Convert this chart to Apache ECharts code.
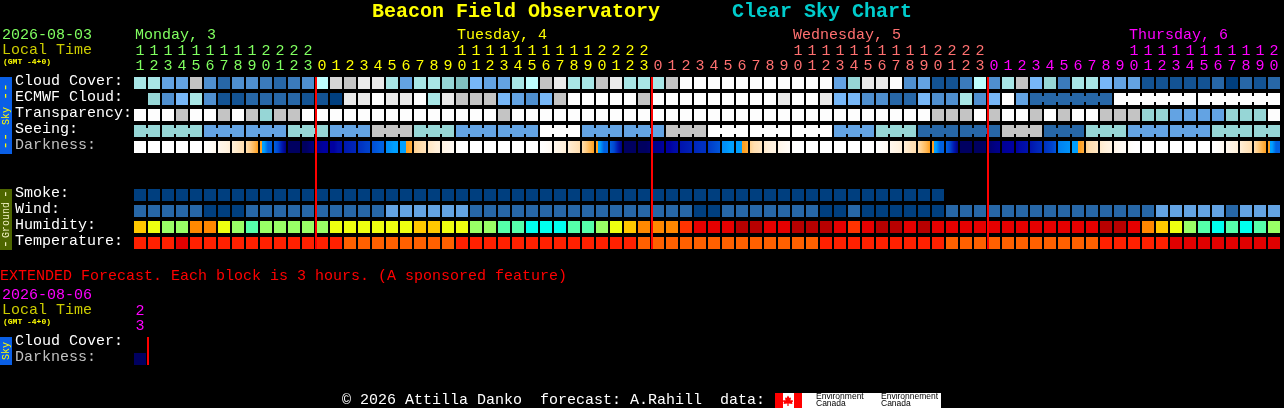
<!DOCTYPE html>
<html><head><meta charset="utf-8">
<style>html,body{margin:0;padding:0;background:#000}#c{width:1284px;height:408px}</style>
<script src="https://cdn.jsdelivr.net/npm/echarts@6/dist/echarts.min.js"></script></head>
<body><div id="c"></div>
<script>
// ---- categories / ticks ----
const hourLabels = [11,12,13,14,15,16,17,18,19,20,21,22,23,
 0,1,2,3,4,5,6,7,8,9,10,11,12,13,14,15,16,17,18,19,20,21,22,23,
 0,1,2,3,4,5,6,7,8,9,10,11,12,13,14,15,16,17,18,19,20,21,22,23,
 0,1,2,3,4,5,6,7,8,9,10,11,12,13,14,15,16,17,18,19,20];
const midnightCols = [13,37,61];
const dayNames = ['Monday, 3','Tuesday, 4','Wednesday, 5','Thursday, 6'];
const dayNameCols = [0,23,47,71];
const dayColors = ['#80FF60','#FFFF00','#FF7070','#FF00FF'];
const rowNames = ['Cloud Cover:','ECMWF Cloud:','Transparency:','Seeing:','Darkness:','','','Smoke:','Wind:','Humidity:','Temperature:'];
const extHours = ['23',''];
const extRowNames = ['Cloud Cover:','Darkness:'];
// ---- colour levels ----
const cloudPalette = ['#003F7F','#135393','#2767A7','#3B7BBB','#4F8FCF','#63A3E3','#77B7F7','#96D6D6','#A8E6E6','#BEFEFE','#C4C4C4','#EAEAEA','#FDFDFD','#D6D6D6','#80C0C0'];
const humidityPalette = ['#00FFEE','#55FFAA','#99FF66','#EEFF10','#FFC800','#FF8800','#FF3300','#E60000','#B80000'];
const tempPalette = ['#E00000','#FF2000','#FF6000'];
const darkPalette = ['#FFFFFF','#FFF8EE','#FFEFD8','#FFDEB0','#FFC470','#FFA020','#00A0FF','#0060E0','#0030C0','#0000A0','#000060'];
// ---- series values (level per hour) ----
const cloudCover = [8,8,5,5,10,4,2,4,4,3,2,3,4,9,13,10,11,11,8,5,8,8,7,14,6,5,5,8,9,10,11,8,8,10,11,8,8,8,10,12,12,12,12,12,12,12,12,12,12,12,5,7,11,11,12,4,5,1,1,3,9,4,8,10,6,7,3,8,8,6,5,5,1,1,1,1,1,2,0,2,1,2];
const ecmwfCloud = [null,7,4,6,8,4,1,1,2,2,2,2,1,1,0,11,11,12,11,11,12,8,11,10,10,10,6,5,4,6,10,12,12,12,12,12,10,12,12,12,12,12,12,12,12,12,11,12,12,11,6,6,4,4,2,2,6,4,4,8,4,6,12,5,2,2,2,2,2,2,12,12,12,12,12,12,12,12,12,12,12,12];
const ecmwfBlocks = [[64,69],[70,75],[76,81]];
const transparency = [12,12,12,10,12,12,10,12,10,7,10,10,12,12,12,12,12,12,12,12,12,12,12,12,12,12,10,12,12,12,12,12,12,12,12,12,12,12,12,12,12,12,12,12,12,12,12,12,12,12,12,12,12,12,12,12,12,10,10,10,12,10,12,12,10,12,10,12,12,10,10,10,7,7,5,5,5,5,7,7,7,12];
const seeing = [7,7,7,7,7,5,5,5,5,5,5,7,7,7,5,5,5,10,10,10,7,7,7,5,5,5,5,5,5,12,12,12,5,5,5,5,5,5,10,10,10,12,12,12,12,12,12,12,12,12,5,5,5,7,7,7,2,2,2,2,2,2,10,10,10,2,2,2,7,7,7,5,5,5,5,5,5,7,7,7,7,7];
const seeingBlocks = [[0,1],[2,4],[5,7],[8,10],[11,13],[14,16],[17,19],[20,22],[23,25],[26,28],[29,31],[32,34],[35,37],[38,40],[41,43],[44,46],[47,49],[50,52],[53,55],[56,58],[59,61],[62,64],[65,67],[68,70],[71,73],[74,76],[77,79],[80,81]];
const W=[0,0,0,0];
const darkness = [W,W,W,W,W,[0,.3,.6,1],[1,1.3,1.6,2],[2,2.3,2.7,3],[3,3.6,4.3,5],[5,6,7,7],[7,7.5,8.5,9.5],[10,10,10,10],[10,10,9.7,9.5],
 [9.3,9.2,9,9],[9,9,8.7,8.7],[8.5,8.4,8.3,8.2],[8,7.9,7.7,7.6],[7.4,7.2,7,7],[6.3,6.2,6,6],[6,6,5,4.6],[3.5,3.2,3,2.7],[2.5,2.3,2,1.8],[1.5,1.2,1,.7],[.3,0,0,0],W,W,W,W,W,
 [0,.2,.5,.8],[1,1.4,1.7,2],[2,2.4,2.7,3],[3,3.7,4.4,5],[5,6,7,7],[7,7.5,8.5,9.5],[10,10,10,10],[10,10,10,9.8],
 [9.5,9.3,9.2,9],[9,9,8.8,8.7],[8.6,8.5,8.4,8.3],[8.2,8.1,8,8],[7.8,7.6,7.4,7.2],[6.3,6.2,6,6],[6,6,5,4.6],[3.5,3,2.8,2.5],[2.3,2,1.7,1.5],[1.3,1,.7,.4],[.2,0,0,0],W,W,W,W,W,
 [0,.2,.4,.7],[1,1.3,1.6,2],[2,2.4,2.8,3],[3,3.7,4.3,5],[5,6,7,7],[7,7.5,8.5,9.5],[10,10,10,10],[10,10,10,9.9],
 [9.8,9.6,9.4,9.3],[9.2,9.1,9,9],[9,8.8,8.7,8.6],[8.6,8.4,8.2,8.1],[8,7.8,7.6,7.2],[6.5,6.4,6.3,6.2],[6,6,5,4.6],[3.5,3,2.8,2.5],[2.3,2,1.7,1.5],[1.3,1,.7,.4],[.5,.2,0,0],W,W,W,W,W,[0,.2,.5,.8],[1,1.3,1.6,2],[2,2.4,2.7,3],[3,3.7,4.4,5],[5,6,7,7]];
const smoke = [0,0,0,0,0,0,0,0,0,0,0,0,0,0,0,0,0,0,0,0,0,0,0,0,0,0,0,0,0,0,0,0,0,0,0,0,0,0,0,0,0,0,0,0,0,0,0,0,0,0,0,0,0,0,0,0,0,0];
const wind = [2,2,2,2,2,0,0,0,2,2,2,2,2,2,2,2,2,2,5,5,5,5,5,5,2,2,2,2,2,2,2,2,2,2,2,2,2,2,2,2,0,0,2,2,2,2,2,2,2,0,0,2,0,0,0,0,0,0,2,2,2,2,2,2,2,2,2,2,2,2,2,2,2,5,5,5,5,5,2,5,5,5];
const humidity = [4,3,2,2,5,5,3,2,1,2,2,2,2,2,3,3,3,3,3,3,4,4,3,3,2,2,1,1,0,0,0,1,1,2,3,4,5,5,5,6,7,7,7,8,8,7,7,8,8,8,7,6,7,8,8,7,8,7,7,7,7,7,7,7,7,7,7,7,7,8,8,7,5,4,3,2,1,0,1,0,1,2];
const temperature = [1,1,1,0,1,1,1,1,1,1,1,1,1,1,1,2,2,2,2,2,2,2,2,1,1,1,1,1,1,1,1,1,1,1,1,1,2,2,2,2,2,2,2,2,2,2,2,2,2,1,1,1,1,1,1,1,1,1,2,2,2,2,2,2,2,2,2,2,2,1,1,1,1,1,0,0,0,0,0,0,0,0];
const extDarkness = [[10,10,10,10]];
const extMidnight = [1];

// ---- helpers ----
function dayColor(col){ let d=0; midnightCols.forEach(m=>{ if(col>=m) d++; }); return dayColors[d]; }
function lerpHex(a,b,t){ const p=h=>[1,3,5].map(i=>parseInt(h.substr(i,2),16)); const A=p(a),B=p(b);
  return 'rgb('+A.map((v,i)=>Math.round(v+(B[i]-v)*t)).join(',')+')'; }
function darkColor(l){ const i=Math.min(Math.floor(l),darkPalette.length-2); return lerpHex(darkPalette[i],darkPalette[i+1],l-i); }
function darkFill(s){ const stops=[]; s.forEach((l,k)=>{ const off=k/(s.length-1);
    if(k>0 && ((s[k-1]<=5 && l>=6)||(s[k-1]>=6 && l<=5))){ const mid=(k-.5)/(s.length-1); stops.push({offset:mid,color:darkColor(s[k-1])},{offset:mid,color:darkColor(l)}); }
    stops.push({offset:off,color:darkColor(l)}); });
  return {type:'linear',x:0,y:0,x2:1,y2:0,global:false,colorStops:stops}; }
function cellSeries(name,row,values,palette,blocks,gridIdx){
  const data=[]; values.forEach((v,i)=>{ if(v!==null) data.push([i,row,v]); });
  return {type:'custom',name,xAxisIndex:gridIdx?2:0,yAxisIndex:gridIdx?1:0,data,silent:true,clip:false,
    renderItem(p,api){ const c=api.coord([api.value(0),api.value(1)]), col=api.value(0), fill=palette[api.value(2)];
      const ch=[{type:'rect',shape:{x:c[0]-6,y:c[1]-6,width:12,height:12},style:{fill}}];
      if(blocks && blocks.some(b=>col>=b[0]&&col<b[1])) ch.push({type:'rect',shape:{x:c[0]+6,y:c[1]-3,width:2,height:6},style:{fill}});
      return {type:'group',children:ch}; }};
}
function darkSeries(name,row,values,gridIdx){
  return {type:'custom',name,xAxisIndex:gridIdx?2:0,yAxisIndex:gridIdx?1:0,data:values.map((v,i)=>[i,row]),silent:true,clip:false,
    renderItem(p,api){ const c=api.coord([api.value(0),api.value(1)]);
      return {type:'rect',shape:{x:c[0]-6,y:c[1]-6,width:12,height:12},style:{fill:darkFill(values[p.dataIndex])}}; }};
}
function redSeries(cols,r0,r1,gridIdx){
  return {type:'custom',name:'midnight',xAxisIndex:gridIdx?2:0,yAxisIndex:gridIdx?1:0,data:cols.map(c=>[c,r0]),silent:true,clip:false,z:5,
    renderItem(p,api){ const a=api.coord([api.value(0),r0]), b=api.coord([api.value(0),r1]);
      return {type:'rect',shape:{x:a[0]-7,y:a[1]-6,width:2,height:b[1]-a[1]+12},style:{fill:'#FF0000'}}; }};
}
const FONT='"Liberation Mono","DejaVu Sans Mono",monospace';
function hAxis(gridIndex,data,digit,offset,colorFn){
  return {type:'category',gridIndex,position:'top',offset,data,axisLine:{show:false},axisTick:{show:false},splitLine:{show:false},
    axisLabel:{show:true,interval:0,margin:1,hideOverlap:false,fontFamily:FONT,fontSize:15,color:(v,i)=>colorFn(i),
      formatter:v=>{ if(v==='') return ''; const n=Number(v); return digit==='ones'?String(n%10):(n>=10?String(Math.floor(n/10)):''); }}};
}
function vAxis(gridIndex,data,grayName){
  return {type:'category',gridIndex,inverse:true,data,axisLine:{show:false},axisTick:{show:false},splitLine:{show:false},
    axisLabel:{show:true,interval:0,align:'left',margin:118,verticalAlign:'bottom',lineHeight:4,fontFamily:FONT,fontSize:15,hideOverlap:false,
      color:v=>v===grayName?'#C0C0C0':'#FFFFFF'}};
}
function txt(text,x,y,fill,size,opt){ opt=opt||{};
  return {type:'text',x,y,silent:true,rotation:opt.rot||0,z:10,
    style:{text,fill,font:(opt.bold?'bold ':'')+size+'px '+(opt.family||FONT),textAlign:opt.align||'left',textVerticalAlign:'middle'}};
}
function sideBar(y0,y1,bg){ return {type:'rect',silent:true,z:9,shape:{x:0,y:y0,width:12,height:y1-y0},style:{fill:bg}}; }
const vt=(s,y,fill,size)=>txt(s,6,y,fill,size,{rot:Math.PI/2,align:'center'});
const leafPts=[[788,395.5],[789.5,398],[791,397.5],[790.5,400.5],[792.5,400],[793,401.5],[792,402.5],[792.5,404],[788.6,403.6],[788.6,406],[787.4,406],[787.4,403.6],[783.5,404],[784,402.5],[783,401.5],[783.5,400],[785.5,400.5],[785,397.5],[786.5,398]];

const chart=echarts.init(document.getElementById('c'),null,{renderer:'canvas',width:1284,height:408});
chart.setOption({
  backgroundColor:'#000',animation:false,
  grid:[{left:133,top:75,width:1148,height:176},{left:133,top:335,width:28,height:32}],
  xAxis:[
    hAxis(0,hourLabels,'ones',0,dayColor),
    hAxis(0,hourLabels,'tens',15,dayColor),
    hAxis(1,extHours,'ones',0,()=>'#FF00FF'),
    hAxis(1,extHours,'tens',15,()=>'#FF00FF')
  ],
  yAxis:[vAxis(0,rowNames,'Darkness:'),vAxis(1,extRowNames,'Darkness:')],
  series:[
    cellSeries('Cloud Cover',0,cloudCover,cloudPalette),
    cellSeries('ECMWF Cloud',1,ecmwfCloud,cloudPalette,ecmwfBlocks),
    cellSeries('Transparency',2,transparency,cloudPalette),
    cellSeries('Seeing',3,seeing,cloudPalette,seeingBlocks),
    darkSeries('Darkness',4,darkness),
    cellSeries('Smoke',7,smoke,cloudPalette),
    cellSeries('Wind',8,wind,cloudPalette),
    cellSeries('Humidity',9,humidity,humidityPalette),
    cellSeries('Temperature',10,temperature,tempPalette),
    redSeries(midnightCols,0,10),
    darkSeries('Extended Darkness',1,extDarkness,1),
    redSeries(extMidnight,0,1,1),
    {type:'custom',name:'days',xAxisIndex:0,yAxisIndex:0,data:dayNameCols.map(c=>[c,0]),silent:true,clip:false,
      renderItem(p,api){ const c=api.coord([api.value(0),0]);
        return {type:'text',x:c[0]-5,y:c[1]-48,style:{text:dayNames[p.dataIndex],fill:dayColors[p.dataIndex],font:'15px '+FONT,textAlign:'left',textVerticalAlign:'middle'}}; }}
  ],
  graphic:[
    txt('Beacon Field Observatory',372,12,'#FFFF00',20,{bold:true}),
    txt('Clear Sky Chart',732,12,'#00CCCC',20,{bold:true}),
    txt('2026-08-03',2,35,'#80FF60',15),
    txt('Local Time',2,50,'#CCCC00',15),
    txt('(GMT -4+0)',3,62,'#FFFF00',8,{bold:true}),
    sideBar(77,154,'#0A5FE6'),
    vt('--',91.5,'#FFFF00',14),vt('Sky',116,'#FFFF00',10),vt('--',141,'#FFFF00',14),
    sideBar(189,250,'#4E6600'),
    vt('-',194,'#F0F0C0',14),vt('Ground',220,'#F0F0C0',10),vt('-',244,'#F0F0C0',14),
    txt('EXTENDED Forecast. Each block is 3 hours. (A sponsored feature)',0,276,'#FF0000',15),
    txt('2026-08-06',2,295,'#FF00FF',15),
    txt('Local Time',2,310,'#CCCC00',15),
    txt('(GMT -4+0)',3,322,'#FFFF00',8,{bold:true}),
    sideBar(337,365,'#0A5FE6'),
    vt('Sky',351,'#FFFF00',10),
    txt('\u00A9 2026 Attilla Danko  forecast: A.Rahill  data:',342,400,'#FFFFFF',15),
    {type:'rect',silent:true,z:9,shape:{x:775,y:393,width:166,height:15},style:{fill:'#FFFFFF'}},
    {type:'rect',silent:true,z:10,shape:{x:775,y:393,width:8,height:15},style:{fill:'#FF0000'}},
    {type:'rect',silent:true,z:10,shape:{x:794,y:393,width:8,height:15},style:{fill:'#FF0000'}},
    {type:'polygon',silent:true,z:10,shape:{points:leafPts},style:{fill:'#FF0000'}},
    txt('Environment',816,397,'#000000',8.5,{family:'"Liberation Sans",sans-serif'}),
    txt('Canada',816,404,'#000000',8.5,{family:'"Liberation Sans",sans-serif'}),
    txt('Environnement',881,397,'#000000',8.5,{family:'"Liberation Sans",sans-serif'}),
    txt('Canada',881,404,'#000000',8.5,{family:'"Liberation Sans",sans-serif'})
  ]
});
</script></body></html>
